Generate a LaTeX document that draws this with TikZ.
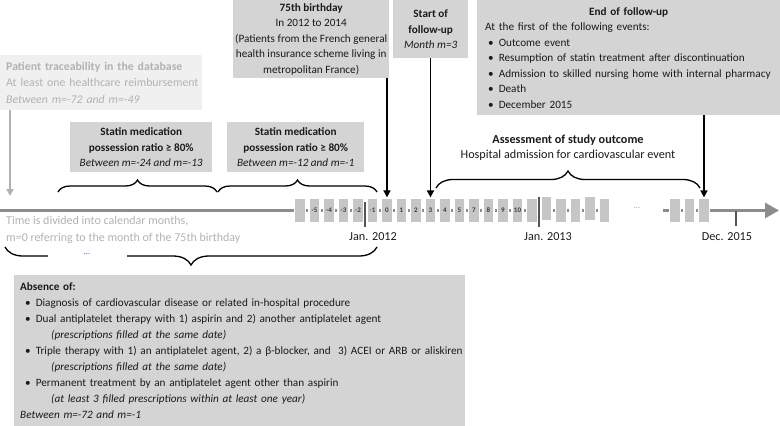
\documentclass[tikz,border=0pt]{standalone}
\usepackage{fontspec}
\setmainfont{Carlito}
\usetikzlibrary{decorations.pathreplacing,arrows.meta,calc}
\definecolor{boxgray}{HTML}{D4D4D4}
\definecolor{lightbox}{HTML}{F0F0F0}
\definecolor{lighttext}{HTML}{B2B2B2}
\definecolor{blockgray}{HTML}{C6C6C6}
\definecolor{axisgray}{HTML}{8C8C8C}
\definecolor{tickgray}{HTML}{555555}
\definecolor{dotblue}{HTML}{3B3B8F}
\definecolor{txt}{HTML}{1A1A1A}
\newcommand{\bul}[1]{\mbox{\hspace*{9pt}•\hspace*{5pt}#1}}
\newcommand{\sub}[1]{\mbox{\hspace*{35pt}\textit{#1}}}
\tikzset{
  boxfont/.style={font=\fontsize{11.2}{15.5}\selectfont},
  outfont/.style={font=\fontsize{12.2}{15.5}\selectfont},
  graybox/.style={fill=boxgray, inner sep=0pt, text=txt, boxfont},
  palebox/.style={fill=lightbox, inner sep=0pt, text=lighttext, font=\fontsize{11.8}{16.5}\selectfont},
  monthblock/.style={fill=blockgray, draw=white, line width=1.2pt, minimum width=11pt, minimum height=25pt, inner sep=0pt, text=tickgray!70!black, font=\fontsize{7}{8}\selectfont\bfseries},
  downarrow/.style={line width=1.6pt, -{Triangle[length=7pt,width=7pt]}},
  bracestyle/.style={line width=1.3pt, decorate},
  tickline/.style={tickgray, line width=1.2pt},
}
\begin{document}
\begin{tikzpicture}[x=1pt,y=1pt]
\useasboundingbox (0,0) rectangle (780,-426);

% axis
\draw[axisgray, line width=3pt] (0,-210.5) -- (610,-210.5);
\draw[axisgray, line width=3pt, -{Triangle[length=14pt,width=15pt]}] (663,-210.5) -- (779,-210.5);

% month blocks
\foreach \i/\x/\lab/\dy in {1/300/{}/0, 2/314.5/-5/0, 3/329/-4/0, 4/343.5/-3/0, 5/358/-2/0, 6/372.5/-1/0, 7/387/0/0, 8/401.5/1/0, 9/416/2/0, 10/430.5/3/0, 11/445/4/0, 12/459.5/5/0, 13/474/7/0, 14/488.5/8/0, 15/503/9/0, 16/517.5/10/0, 17/532/{}/0, 18/546.5/{}/2, 19/561/{}/0, 20/575.5/{}/0, 21/590/{}/2, 22/604.5/{}/0}
  \node[monthblock] (b\i) at (\x,-210.5+\dy) {\lab};
\foreach \i/\x in {1/675, 2/689.5, 3/704}
  \node[monthblock] (e\i) at (\x,-210.5) {};
\node[text=axisgray, font=\fontsize{8}{8}\selectfont] (dots1) at (637,-208) {...};

% ticks
\draw[tickline] (365,-202) -- (365,-227);
\draw[tickline] (539,-197) -- (539,-227);
\draw[tickline] (736,-211) -- (736,-226);
\node[outfont, text=txt] (j12) at (373,-237) {Jan. 2012};
\node[outfont, text=txt] (j13) at (548,-237) {Jan. 2013};
\node[outfont, text=txt] (d15) at (727,-237) {Dec. 2015};

% traceability box
\node[palebox, anchor=north west, minimum width=202pt, minimum height=55pt, text width=198pt, inner xsep=2pt, align=left] (trace) at (0,-55)
  {\mbox{\hspace*{4pt}\textbf{Patient traceability in the database}}\\\mbox{\hspace*{4pt}At least one healthcare reimbursement}\\\mbox{\hspace*{4pt}\textit{Between m=-72 and m=-49}}};
\coordinate (traceend) at (10,-196);
\draw[lighttext, line width=1.6pt, -{Triangle[length=7pt,width=7pt]}] (trace.south -| traceend) -- (traceend);

% statin boxes
\node[graybox, anchor=north west, minimum width=142pt, minimum height=50pt, align=center] (stat1) at (70,-122)
  {\textbf{Statin medication}\\\textbf{possession ratio ≥ 80\%}\\\textit{Between m=-24 and m=-13}};
\node[graybox, anchor=north west, minimum width=137pt, minimum height=50pt, align=center] (stat2) at (227,-122)
  {\textbf{Statin medication}\\\textbf{possession ratio ≥ 80\%}\\\textit{Between m=-12 and m=-1}};
\draw[bracestyle, decoration={brace, amplitude=12pt}] (58,-192) -- (217,-192);
\draw[bracestyle, decoration={brace, amplitude=12pt}] (218,-192) -- (377,-192);

% 75th birthday
\node[graybox, anchor=north west, minimum width=156pt, minimum height=78pt, align=center] (bday) at (233,0)
  {\textbf{75th birthday}\\In 2012 to 2014\\(Patients from the French general\\health insurance scheme living in\\metropolitan France)};
\draw[downarrow] (bday.south -| b7) -- (b7.north);

% start of follow-up
\node[graybox, anchor=north west, minimum width=75pt, minimum height=58pt, align=center] (start) at (393,0)
  {\textbf{Start of}\\\textbf{follow-up}\\\textit{Month m=3}};
\draw[downarrow] (start.south -| b10) -- (b10.north);

% end of follow-up
\node[graybox, anchor=north west, minimum width=303pt, minimum height=115pt, text width=299pt, inner xsep=2pt, align=left] (endbox) at (477,0)
  {\makebox[299pt][c]{\textbf{End of follow-up}}\\
   \mbox{\hspace*{6pt}At the first of the following events:}\\
   \bul{Outcome event}\\
   \bul{Resumption of statin treatment after discontinuation}\\
   \bul{Admission to skilled nursing home with internal pharmacy}\\
   \bul{Death}\\
   \bul{December 2015}};
\draw[downarrow] (endbox.south -| e3) -- (e3.north);

% assessment of outcome
\node[outfont, text=txt, align=center] (assess) at (568,-147.5)
  {\textbf{Assessment of study outcome}\\Hospital admission for cardiovascular event};
\draw[bracestyle, decoration={brace, amplitude=17pt}] (436,-188) -- (700,-188);

% time text
\node[font=\fontsize{12}{16.5}\selectfont, text=lighttext, anchor=north west, align=left, inner sep=0pt] (timetext) at (6,-216)
  {Time is divided into calendar months,\\m=0 referring to the month of the 75th birthday};

% bottom brace
\draw[bracestyle, decoration={brace, amplitude=18pt}] (377,-247) -- (5,-247);
\fill[white] (48,-250) rectangle (127,-264);
\node[text=dotblue, font=\fontsize{8}{8}\selectfont] (dots2) at (87,-254) {...};

% absence box
\node[graybox, anchor=north west, minimum width=451pt, minimum height=151pt, text width=447pt, inner xsep=2pt, align=left, font=\fontsize{11.2}{16}\selectfont] (absence) at (14,-275)
  {\mbox{\hspace*{4pt}\textbf{Absence of:}}\\
   \bul{Diagnosis of cardiovascular disease or related in-hospital procedure}\\
   \bul{Dual antiplatelet therapy with 1) aspirin and 2) another antiplatelet agent}\\
   \sub{(prescriptions filled at the same date)}\\
   \bul{Triple therapy with 1) an antiplatelet agent, 2) a β-blocker, and\ \ 3) ACEI or ARB or aliskiren}\\
   \sub{(prescriptions filled at the same date)}\\
   \bul{Permanent treatment by an antiplatelet agent other than aspirin}\\
   \sub{(at least 3 filled prescriptions within at least one year)}\\
   \mbox{\hspace*{4pt}\textit{Between m=-72 and m=-1}}};
\end{tikzpicture}
\end{document}
